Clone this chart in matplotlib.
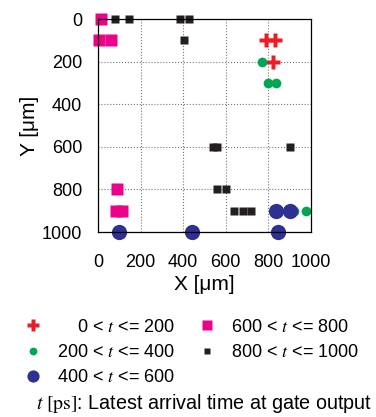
import matplotlib
matplotlib.use("Agg")
import matplotlib.pyplot as plt

plt.rcParams['font.family'] = ['Liberation Sans', 'DejaVu Sans']
plt.rcParams['mathtext.fontset'] = 'stix'

# gate positions grouped by latest arrival time
red_x = [790, 830, 820]
red_y = [100, 100, 200]
green_x = [770, 800, 835, 920, 975]
green_y = [200, 300, 300, 900, 900]
blue_x = [100, 440, 845, 835, 900]
blue_y = [1000, 1000, 1000, 900, 900]
mag_x = [15, 5, 60, 90, 85, 115]
mag_y = [0, 100, 100, 800, 900, 900]
blk_x = [80, 145, 385, 425, 405, 540, 560, 900, 560, 600, 640, 680, 720]
blk_y = [0, 0, 0, 0, 100, 600, 600, 600, 800, 800, 900, 900, 900]

labels = ["    0 < $t$ <= 200", "200 < $t$ <= 400", "400 < $t$ <= 600",
          "600 < $t$ <= 800", "800 < $t$ <= 1000"]
ticks = [0, 200, 400, 600, 800, 1000]

fig = plt.figure(figsize=(3.76, 4.17), dpi=100)
ax = fig.add_axes([0.2606, 0.4436, 0.5665, 0.5108])

ax.plot(red_x, red_y, 'P', color='#ec1c24', ms=10, mec='none', clip_on=False, label=labels[0])
ax.plot(green_x, green_y, 'o', color='#00a651', ms=7, mec='none', clip_on=False, label=labels[1])
ax.plot(blue_x, blue_y, 'o', color='#2e3192', ms=11, mec='none', clip_on=False, label=labels[2])
ax.plot(mag_x, mag_y, 's', color='#ec008c', ms=9, mec='none', clip_on=False, label=labels[3])
ax.plot(blk_x, blk_y, 's', color='#231f20', ms=6, mec='none', clip_on=False, label=labels[4])

ax.set_xlim(0, 1000)
ax.set_ylim(1000, 0)
ax.set_xticks(ticks)
ax.set_yticks(ticks)
ax.tick_params(length=0, labelsize=13)
ax.tick_params(axis='x', pad=16)
ax.tick_params(axis='y', pad=11.5)
ax.grid(True, linestyle=':', color='#777777', linewidth=0.8)
for s in ax.spines.values():
    s.set_linewidth(0.9)
ax.set_xlabel("X [μm]", fontsize=15, labelpad=3)
ax.set_ylabel("Y [μm]", fontsize=15, labelpad=2)

fig.legend(loc='upper left', bbox_to_anchor=(0.045, 0.253), ncol=2,
           frameon=False, fontsize=13, handlelength=1.0, handletextpad=0.8,
           columnspacing=1.3, labelspacing=0.45, borderaxespad=0, markerscale=0.8)

fig.text(0.096, 0.018, r"$t\ \mathrm{[ps]}$: Latest arrival time at gate output", fontsize=14.2)

fig.savefig("out.png", dpi=100)
